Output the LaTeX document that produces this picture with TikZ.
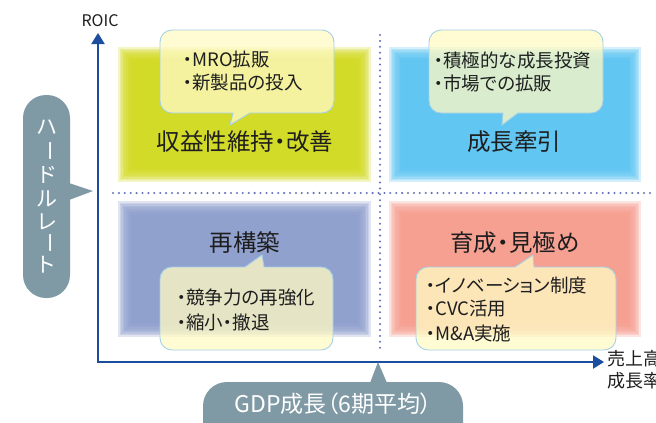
\documentclass[tikz,border=0pt]{standalone}
\usepackage{fontspec}
\setmainfont{Noto Sans CJK JP}[RawFeature={+palt}]
\usetikzlibrary{arrows.meta}

\definecolor{axisblue}{RGB}{28,78,160}
\definecolor{dotblue}{RGB}{100,114,190}
\definecolor{qgreen}{RGB}{208,216,24}
\definecolor{qblue}{RGB}{84,193,240}
\definecolor{qpurple}{RGB}{136,153,202}
\definecolor{qsalmon}{RGB}{245,152,137}
\definecolor{callfill}{RGB}{255,250,196}
\definecolor{callborder}{RGB}{165,208,230}
\definecolor{pillgray}{RGB}{127,153,165}
\definecolor{txt}{RGB}{30,30,30}

\newcommand{\softquad}[5]{%
  \foreach \k in {0,...,8}{%
    \fill[#1, opacity=0.25] ({#2+\k*1.6},{#3+\k*1.6}) rectangle ({#4-\k*1.6},{#5-\k*1.6});}}

\begin{document}
\begin{tikzpicture}[x=1pt,y=-1pt,
  axisline/.style={draw=axisblue, line width=2.2pt,
    {Triangle[width=13pt,length=11pt]}-{Triangle[width=13pt,length=11pt]}},
  dotline/.style={draw=dotblue, line width=2.3pt, line cap=round, dash pattern=on 0pt off 5.9pt},
  callout/.style={fill=callfill, fill opacity=0.76, draw=callborder, line width=0.9pt},
  pill/.style={fill=pillgray, draw=none},
  lbl/.style={font=\fontsize{23.5}{27}\selectfont, text=txt, inner sep=0pt},
  item/.style={font=\fontsize{18.5}{22}\selectfont, text=txt, inner sep=0pt, anchor=west},
  pilltext/.style={font=\fontsize{23}{26}\selectfont, text=white, inner sep=0pt},
  vchar/.style={font=\fontsize{21}{23}\selectfont, text=white, inner sep=0pt},
  axlbl/.style={font=\fontsize{18}{21}\selectfont, text=txt, inner sep=0pt},
]
\useasboundingbox (0,0) rectangle (656,423);
\clip (0,0) rectangle (656,423);

% quadrants
\softquad{qgreen}{118}{47}{371}{182}
\softquad{qblue}{389}{47}{641}{182}
\softquad{qpurple}{118}{201}{371}{337}
\softquad{qsalmon}{389}{201}{641}{337}

% dotted separators
\coordinate (hl) at (113,193);
\coordinate (hr) at (650,193);
\coordinate (vt) at (380,35);
\coordinate (vb) at (380,350);
\draw[dotline] (hl) -- (hr);
\draw[dotline] (vt) -- (vb);

% axes
\coordinate (ytop) at (98,33);
\coordinate (O) at (98,362);
\coordinate (xend) at (604,362);
\draw[axisline] (ytop) -- (O) -- (xend);
\node[axlbl, font=\fontsize{16}{19}\selectfont] (roic) at (100,21) {ROIC};
\node[axlbl, anchor=west] (xl1) at (607,359) {売上高};
\node[axlbl, anchor=west] (xl2) at (607,381) {成長率};

% callouts: top-left
\path[callout] (160,70) [rounded corners=12] -- (160,30) -- (334,30) -- (334,113) -- (300,113)
  [sharp corners] -- (250,113) -- (230,125) -- (233,113) -- (200,113)
  [rounded corners=12] -- (160,113) -- cycle;
% top-right
\path[callout] (429,70) [rounded corners=12] -- (429,30) -- (603,30) -- (603,113) -- (560,113)
  [sharp corners] -- (518,113) -- (502,125) -- (503,113) -- (470,113)
  [rounded corners=12] -- (429,113) -- cycle;
% bottom-left
\path[callout] (160,310) [rounded corners=12] -- (160,267) -- (200,267)
  [sharp corners] -- (245,267) -- (262,255) -- (264,267) -- (300,267)
  [rounded corners=12] -- (333,267) -- (333,350) -- (160,350) -- cycle;
% bottom-right
\path[callout] (416,310) [rounded corners=12] -- (416,267) -- (470,267)
  [sharp corners] -- (515,267) -- (533,255) -- (534,267) -- (570,267)
  [rounded corners=12] -- (616,267) -- (616,350) -- (416,350) -- cycle;

% quadrant labels
\node[lbl] (q1) at (245,142) {収益性維持・改善};
\node[lbl] (q2) at (514,142) {成長牽引};
\node[lbl] (q3) at (245,243) {再構築};
\node[lbl] (q4) at (515,243) {育成・見極め};

% callout items
\node[item] (a1) at (183,60) {・MRO拡販};
\node[item] (a2) at (183,83) {・新製品の投入};
\node[item] (b1) at (434,60) {・積極的な成長投資};
\node[item] (b2) at (434,83) {・市場での拡販};
\node[item] (c1) at (177,298) {・競争力の再強化};
\node[item] (c2) at (177,322) {・縮小・撤退};
\node[item] (d1) at (426,285) {・イノベーション制度};
\node[item] (d2) at (426,309) {・CVC活用};
\node[item] (d3) at (426,333) {・M\&A実施};

% left pill
\path[pill] (23,95) [rounded corners=23] rectangle (70,298);
\fill[pillgray] (69,183) -- (93,191) -- (69,200) -- cycle;
\node[vchar] (h1) at (47,127) {ハ};
\node[vchar] (h2) at (47,151) {\rotatebox[origin=c]{-90}{ー}};
\node[vchar] (h3) at (47,175) {ド};
\node[vchar] (h4) at (47,199) {ル};
\node[vchar] (h5) at (47,222) {レ};
\node[vchar] (h6) at (47,243) {\rotatebox[origin=c]{-90}{ー}};
\node[vchar] (h7) at (47,265) {ト};

% bottom pill
\path[pill] (203,382) [rounded corners=24] rectangle (463,452);
\fill[pillgray] (370,383) -- (378,362) -- (387,383) -- cycle;
\node[pilltext] (gdp) at (333,404) {GDP成長（6期平均）};
\end{tikzpicture}
\end{document}
